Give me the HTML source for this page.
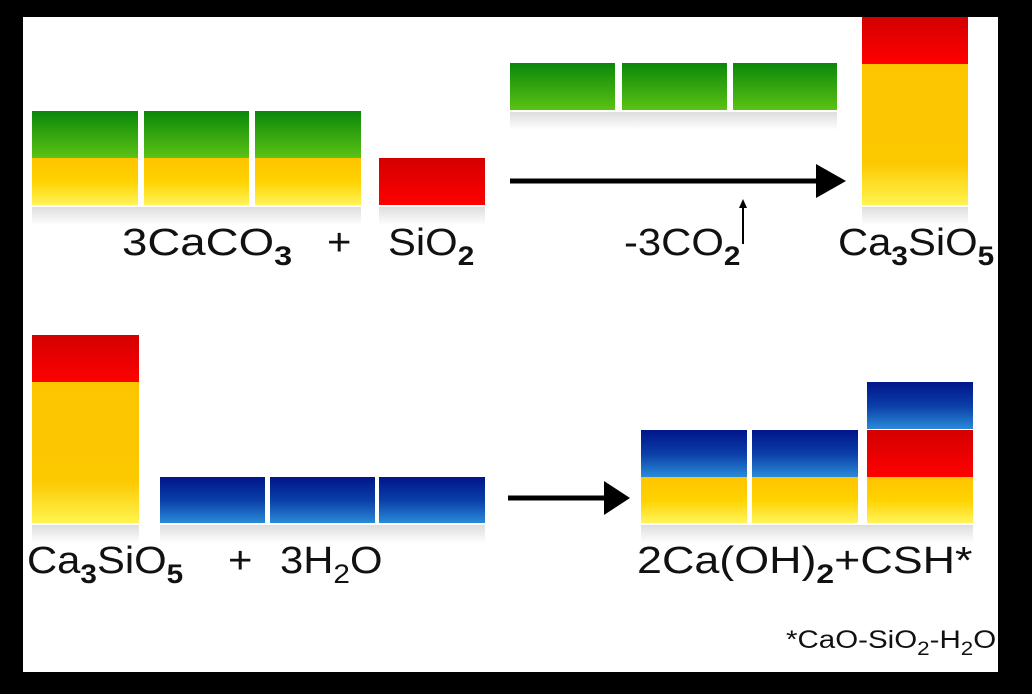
<!DOCTYPE html>
<html><head><style>
body{margin:0;width:1032px;height:694px;background:#000;position:relative;overflow:hidden;font-family:"Liberation Sans",sans-serif}
#w{position:absolute;left:23px;top:17px;width:975px;height:655px;background:#fff}
.b{position:absolute}
.g{background:linear-gradient(#0a870a,#5cc214)}
.y{background:linear-gradient(#ffc400,#ffd200 50%,#fff45a)}
.r{background:linear-gradient(#d40000,#ff0000)}
.u{background:linear-gradient(#00158a,#0a3ea8 50%,#2a8ad8)}
.rf{position:absolute;height:18px;background:linear-gradient(#ddd,rgba(255,255,255,0))}
.t{position:absolute;font-size:38px;color:#111;white-space:nowrap;line-height:1;transform:scaleX(1.1);transform-origin:0 0}
.t sub{font-size:27px;font-weight:bold;vertical-align:-10px}
.f{position:absolute;font-size:25px;color:#111;white-space:nowrap;line-height:1;transform:scaleX(1.18);transform-origin:0 0}
.f sub{font-size:19px;vertical-align:-7px}
</style></head><body>
<div id="w"></div>
<div class="b g" style="left:32px;top:111px;width:106px;height:47px"></div>
<div class="b g" style="left:144px;top:111px;width:105px;height:47px"></div>
<div class="b g" style="left:255px;top:111px;width:106px;height:47px"></div>
<div class="b y" style="left:32px;top:158px;width:106px;height:47px"></div>
<div class="b y" style="left:144px;top:158px;width:105px;height:47px"></div>
<div class="b y" style="left:255px;top:158px;width:106px;height:47px"></div>
<div class="rf" style="left:32px;top:207px;width:329px"></div>
<div class="b r" style="left:379px;top:158px;width:106px;height:47px"></div>
<div class="rf" style="left:379px;top:207px;width:106px"></div>
<div class="t" style="left:122px;top:224px;transform:scaleX(1.2)">3CaCO<sub>3</sub></div>
<div class="t" style="left:327px;top:224px">+</div>
<div class="t" style="left:388px;top:224px">SiO<sub>2</sub></div>
<div class="b g" style="left:510px;top:63px;width:105px;height:47px"></div>
<div class="b g" style="left:622px;top:63px;width:105px;height:47px"></div>
<div class="b g" style="left:733px;top:63px;width:104px;height:47px"></div>
<div class="rf" style="left:510px;top:112px;width:327px"></div>
<svg class="b" style="left:0;top:0" width="1032" height="694">
<line x1="510" y1="181" x2="822" y2="181" stroke="#000" stroke-width="5"/>
<polygon points="816,164 846,181 816,198" fill="#000"/>
<line x1="743" y1="206" x2="743" y2="244" stroke="#000" stroke-width="2"/>
<polygon points="739,208 743,199 747,208" fill="#000"/>
<line x1="508" y1="498" x2="608" y2="498" stroke="#000" stroke-width="5"/>
<polygon points="604,481 630,498 604,515" fill="#000"/>
</svg>
<div class="b r" style="left:862px;top:17px;width:106px;height:47px"></div>
<div class="b y" style="left:862px;top:64px;width:106px;height:141px;background:linear-gradient(#fcc500,#fcc800 70%,#fff450)"></div>
<div class="rf" style="left:862px;top:207px;width:106px"></div>
<div class="t" style="left:624px;top:224px">-3CO<sub>2</sub></div>
<div class="t" style="left:838px;top:224px">Ca<sub>3</sub>SiO<sub>5</sub></div>
<div class="b r" style="left:32px;top:335px;width:107px;height:47px"></div>
<div class="b y" style="left:32px;top:382px;width:107px;height:141px;background:linear-gradient(#fcc500,#fcc800 70%,#fff450)"></div>
<div class="rf" style="left:32px;top:525px;width:107px"></div>
<div class="b u" style="left:160px;top:477px;width:105px;height:46px"></div>
<div class="b u" style="left:270px;top:477px;width:105px;height:46px"></div>
<div class="b u" style="left:379px;top:477px;width:106px;height:46px"></div>
<div class="rf" style="left:160px;top:525px;width:325px"></div>
<div class="t" style="left:27px;top:542px">Ca<sub>3</sub>SiO<sub>5</sub></div>
<div class="t" style="left:228px;top:542px">+</div>
<div class="t" style="left:280px;top:542px">3H<sub style="font-weight:normal">2</sub>O</div>
<div class="b u" style="left:641px;top:430px;width:106px;height:47px"></div>
<div class="b u" style="left:752px;top:430px;width:106px;height:47px"></div>
<div class="b y" style="left:641px;top:477px;width:106px;height:46px"></div>
<div class="b y" style="left:752px;top:477px;width:106px;height:46px"></div>
<div class="b u" style="left:867px;top:382px;width:106px;height:47px"></div>
<div class="b r" style="left:867px;top:430px;width:106px;height:47px"></div>
<div class="b y" style="left:867px;top:477px;width:106px;height:46px"></div>
<div class="rf" style="left:641px;top:525px;width:332px"></div>
<div class="t" style="left:637px;top:542px;transform:scaleX(1.18)">2Ca(OH)<sub>2</sub>+CSH*</div>
<div class="f" style="left:786px;top:628px">*CaO-SiO<sub>2</sub>-H<sub>2</sub>O</div>
</body></html>
